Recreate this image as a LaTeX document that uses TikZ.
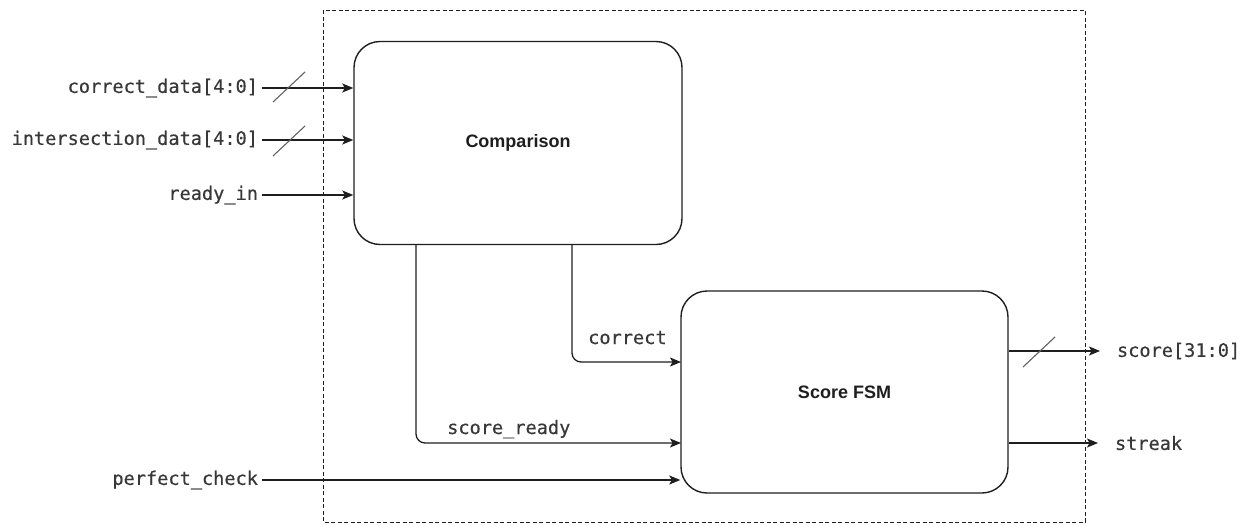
\documentclass[tikz,border=0pt]{standalone}
\usepackage{fontspec}
\setmainfont{Liberation Sans}
\newfontfamily\sigfont[FakeBold=0.4]{DejaVu Sans Mono}
\usetikzlibrary{arrows.meta,calc}
\definecolor{ink}{HTML}{1E1E1E}
\definecolor{txt}{HTML}{383838}
\begin{document}
\begin{tikzpicture}[x=1pt,y=-1pt,
  block/.style={draw=ink,line width=1.4pt,rounded corners=26pt,
    minimum width=#1,minimum height=202pt,inner sep=0pt,
    font=\bfseries\fontsize{18}{21}\selectfont,text=ink},
  sig/.style={draw=ink,line width=1.3pt,
    -{Stealth[length=11pt,width=9pt,inset=2.5pt]}},
  busmark/.style={draw=ink!70,line width=1.1pt},
  sigtext/.style={font=\sigfont\fontsize{18.6}{21}\selectfont,text=txt},
  inlabel/.style={sigtext,anchor=east,inner xsep=4pt,inner ysep=0pt,outer sep=0pt},
  outlabel/.style={sigtext,anchor=west,inner xsep=17pt,inner ysep=0pt,outer sep=0pt},
  wirelabel/.style={sigtext,anchor=base west,inner sep=0pt},
  boundary/.style={draw=ink,line width=0.9pt,dash pattern=on 4pt off 2.5pt}]

\useasboundingbox (0,0) rectangle (1247,525);

% module boundary
\draw[boundary] (323,10) rectangle (1085,522);

% sub-blocks
\node[block=328pt,minimum height=203pt] (cmp) at (518,143) {Comparison};
\node[block=327pt] (fsm) at (844.5,392) {Score FSM};

% top-level inputs
\node[inlabel] (cd) at (262,88) {correct\_data[4:0]};
\node[inlabel] (id) at (262,140) {intersection\_data[4:0]};
\node[inlabel] (ri) at (262,195) {ready\_in};
\node[inlabel] (pc) at (262,480) {perfect\_check};

\draw[sig] (cd.east) -- (cd -| cmp.west);
\draw[sig] (id.east) -- (id -| cmp.west);
\draw[sig] (ri.east) -- (ri -| cmp.west);
\draw[sig] (pc.east) -- (pc -| fsm.west);

% bus width marks
\draw[busmark] ([xshift=27pt]cd.east) ++(-16,14) -- ++(32,-30);
\draw[busmark] ([xshift=27pt]id.east) ++(-16,16) -- ++(32,-30);

% internal signals
\coordinate (corr0) at (572,244);
\coordinate (corr1) at (681,362);
\coordinate (rdy0) at (416,244);
\coordinate (rdy1) at (681,443);
\draw[sig,rounded corners=9pt] (corr0) |- (corr1);
\draw[sig,rounded corners=9pt] (rdy0) |- (rdy1);
\node[wirelabel] (corrlbl) at (588,344) {correct};
\node[wirelabel] (rdylbl) at (447,434) {score\_ready};

% outputs
\node[outlabel] (sc) at (1100,351) {score[31:0]};
\node[outlabel] (sk) at (1098,443) {streak};
\draw[sig] (sc -| fsm.east) -- (sc.west);
\draw[sig] (sk -| fsm.east) -- (sk.west);
\draw[busmark] (1039,352) ++(-16,15) -- ++(32,-30);

\end{tikzpicture}
\end{document}
